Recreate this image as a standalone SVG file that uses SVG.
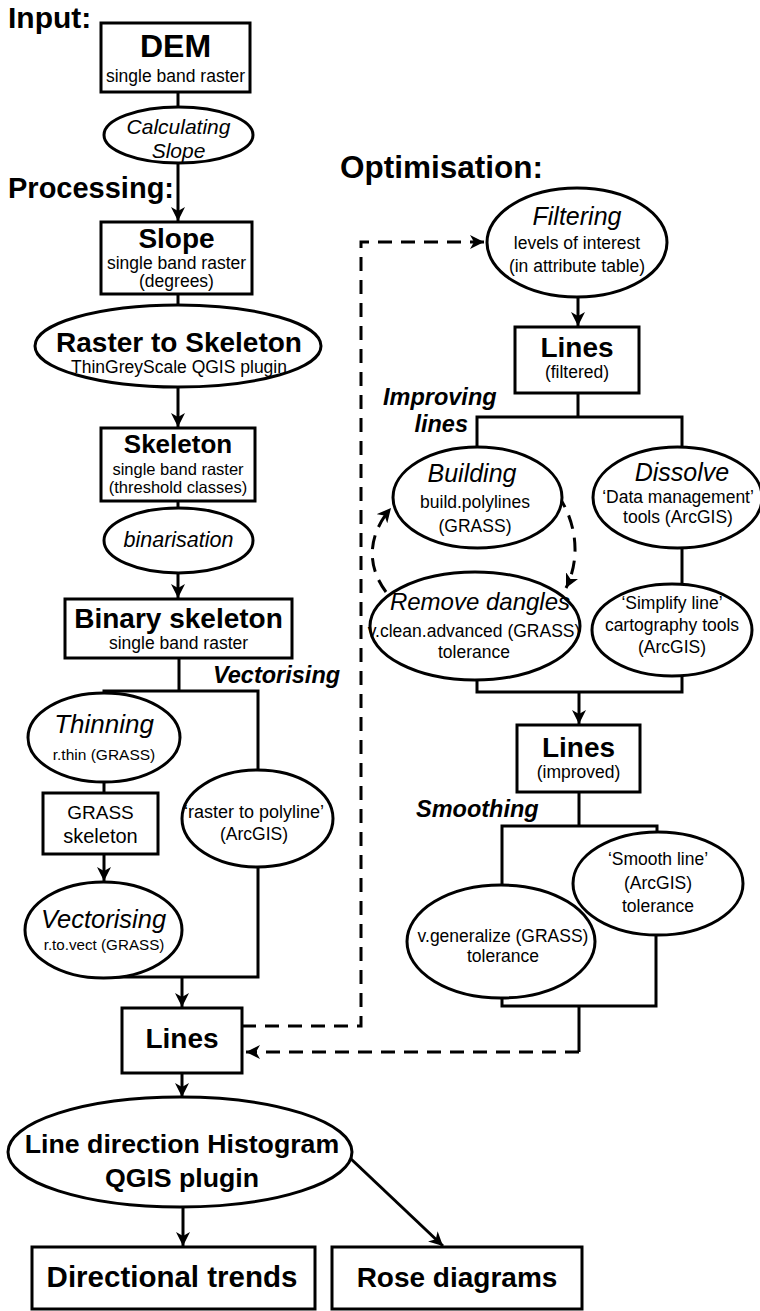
<svg xmlns="http://www.w3.org/2000/svg" width="760" height="1311" viewBox="0 0 760 1311">
<defs>
<marker id="ah" markerUnits="userSpaceOnUse" markerWidth="16" markerHeight="16" refX="14" refY="7" orient="auto">
<path d="M0,0 L14,7 L0,14 L4,7 Z" fill="#000"/>
</marker>
<style>
.n{fill:#fff;stroke:#000;stroke-width:3}
.c{fill:none;stroke:#000;stroke-width:3}
.d{fill:none;stroke:#000;stroke-width:3;stroke-dasharray:14 9}
text{font-family:"Liberation Sans",Arial,sans-serif;fill:#000;text-anchor:middle}
.h{font-size:29px;font-weight:bold;text-anchor:start}
.b{font-size:28px;font-weight:bold}
.s{font-size:17.5px}
.i{font-style:italic;font-size:24px}
.l{font-size:23.5px;font-weight:bold;font-style:italic}
</style>
</defs>
<rect width="760" height="1311" fill="#fff"/>

<g id="connectors">
<line class="c" x1="178" y1="92" x2="178" y2="107"/>
<line class="c" x1="178" y1="163" x2="178" y2="221" marker-end="url(#ah)"/>
<line class="c" x1="178" y1="294" x2="178" y2="305"/>
<line class="c" x1="178" y1="387" x2="178" y2="427" marker-end="url(#ah)"/>
<line class="c" x1="178" y1="501" x2="178" y2="508"/>
<line class="c" x1="178" y1="573" x2="178" y2="598" marker-end="url(#ah)"/>
<path class="c" d="M179,658 V691 M104,693 V691 H258 V770"/>
<line class="c" x1="104" y1="782" x2="104" y2="793"/>
<line class="c" x1="104" y1="854" x2="104" y2="881" marker-end="url(#ah)"/>
<path class="c" d="M104,977 H258 V867"/>
<line class="c" x1="182" y1="977" x2="182" y2="1007" marker-end="url(#ah)"/>
<line class="c" x1="182" y1="1073" x2="182" y2="1097" marker-end="url(#ah)"/>
<line class="c" x1="183" y1="1208" x2="183" y2="1246" marker-end="url(#ah)"/>
<line class="c" x1="350" y1="1158" x2="443" y2="1246" marker-end="url(#ah)"/>
<path class="d" d="M242,1026 H361 V242 H484" marker-end="url(#ah)"/>
<line class="c" x1="578" y1="297" x2="578" y2="326" marker-end="url(#ah)"/>
<path class="c" d="M578,393 V417 M477,447 V417 H682 V447"/>
<line class="c" x1="682" y1="548" x2="682" y2="585"/>
<path class="c" d="M477,680 V692 H682 V675"/>
<line class="c" x1="579" y1="692" x2="579" y2="724" marker-end="url(#ah)"/>
<path class="c" d="M579,792 V826 M502,885 V826 H657 V832"/>
<path class="c" d="M502,998 V1006 H656 V935 M579,1006 V1052"/>
<path class="d" d="M579,1052 H246" marker-end="url(#ah)"/>
<path class="d" d="M558,495 C578,525 580,560 566,588" marker-end="url(#ah)"/>
<path class="d" d="M386,592 C366,565 368,535 391,508" marker-end="url(#ah)"/>
</g>

<text class="h" x="8" y="28" style="font-size:30px">Input:</text>
<text class="h" x="8" y="198">Processing:</text>
<text class="h" x="340" y="178" style="font-size:31.5px">Optimisation:</text>
<text class="l" x="213" y="683" style="text-anchor:start">Vectorising</text>
<text class="l" x="383" y="405" style="text-anchor:start">Improving</text>
<text class="l" x="468" y="432" style="text-anchor:end">lines</text>
<text class="l" x="416" y="817" style="text-anchor:start">Smoothing</text>

<g id="dem">
<rect class="n" x="101" y="23" width="149" height="69"/>
<text class="b" x="175.5" y="57" style="font-size:32px">DEM</text>
<text class="s" x="175.5" y="82">single band raster</text>
</g>
<g id="calc-slope">
<ellipse class="n" cx="178.5" cy="135" rx="74.5" ry="28"/>
<text class="i" x="178.5" y="134" style="font-size:21px">Calculating</text>
<text class="i" x="178.5" y="158" style="font-size:21px">Slope</text>
</g>
<g id="slope">
<rect class="n" x="101" y="222" width="151" height="72"/>
<text class="b" x="176.5" y="248">Slope</text>
<text class="s" x="176.5" y="269">single band raster</text>
<text class="s" x="176.5" y="287">(degrees)</text>
</g>
<g id="raster-to-skeleton">
<ellipse class="n" cx="178" cy="346" rx="143" ry="41"/>
<text class="b" x="179" y="352">Raster to Skeleton</text>
<text class="s" x="179" y="373">ThinGreyScale QGIS plugin</text>
</g>
<g id="skeleton">
<rect class="n" x="101" y="428" width="154" height="73"/>
<text class="b" x="178" y="453" style="font-size:26px">Skeleton</text>
<text class="s" x="178" y="475" style="font-size:16.5px">single band raster</text>
<text class="s" x="178" y="493" style="font-size:16.5px">(threshold classes)</text>
</g>
<g id="binarisation">
<ellipse class="n" cx="178.5" cy="540.5" rx="74.5" ry="32.5"/>
<text class="i" x="178.5" y="547" style="font-size:21.5px">binarisation</text>
</g>
<g id="binary-skeleton">
<rect class="n" x="65" y="599" width="227" height="59"/>
<text class="b" x="178.5" y="628">Binary skeleton</text>
<text class="s" x="178.5" y="649">single band raster</text>
</g>
<g id="thinning">
<ellipse class="n" cx="104" cy="737.5" rx="76" ry="44.5"/>
<text class="i" x="104" y="733" style="font-size:26px">Thinning</text>
<text class="s" x="104" y="760" style="font-size:15.5px">r.thin (GRASS)</text>
</g>
<g id="grass-skeleton">
<rect class="n" x="43" y="793" width="115" height="61"/>
<text x="100.5" y="819" style="font-size:19px">GRASS</text>
<text x="100.5" y="843" style="font-size:20px">skeleton</text>
</g>
<g id="raster-to-polyline">
<ellipse class="n" cx="257.5" cy="818.5" rx="75.5" ry="48.5"/>
<text class="s" x="254" y="818" style="font-size:18px">‘raster to polyline’</text>
<text class="s" x="254" y="840">(ArcGIS)</text>
</g>
<g id="vectorising">
<ellipse class="n" cx="103.5" cy="930" rx="78.5" ry="48"/>
<text class="i" x="103.5" y="928" style="font-size:25.5px">Vectorising</text>
<text class="s" x="104" y="950" style="font-size:15.2px">r.to.vect (GRASS)</text>
</g>
<g id="lines">
<rect class="n" x="122" y="1008" width="120" height="65"/>
<text class="b" x="182" y="1048">Lines</text>
</g>
<g id="line-direction">
<ellipse class="n" cx="180" cy="1152" rx="172" ry="55"/>
<text class="b" x="182" y="1153" style="font-size:26.7px">Line direction Histogram</text>
<text class="b" x="182" y="1187" style="font-size:26.7px">QGIS plugin</text>
</g>
<g id="directional-trends">
<rect class="n" x="32" y="1247" width="283" height="62"/>
<text class="b" x="172" y="1287" style="font-size:29.5px">Directional trends</text>
</g>
<g id="rose-diagrams">
<rect class="n" x="332" y="1247" width="250" height="62"/>
<text class="b" x="457" y="1287">Rose diagrams</text>
</g>
<g id="filtering">
<ellipse class="n" cx="577" cy="242.5" rx="90" ry="54.5"/>
<text class="i" x="577" y="225" style="font-size:25px">Filtering</text>
<text class="s" x="577" y="249">levels of interest</text>
<text class="s" x="577" y="272">(in attribute table)</text>
</g>
<g id="lines-filtered">
<rect class="n" x="515" y="327" width="124" height="66"/>
<text class="b" x="577" y="357">Lines</text>
<text class="s" x="577" y="378">(filtered)</text>
</g>
<g id="building">
<ellipse class="n" cx="477.5" cy="497.5" rx="84.5" ry="50.5"/>
<text class="i" x="472" y="482" style="font-size:25px">Building</text>
<text class="s" x="475" y="508">build.polylines</text>
<text class="s" x="475" y="532">(GRASS)</text>
</g>
<g id="dissolve">
<ellipse class="n" cx="677.5" cy="497.5" rx="84.5" ry="50.5"/>
<text class="i" x="682" y="481" style="font-size:25px">Dissolve</text>
<text class="s" x="678" y="503">‘Data management’</text>
<text class="s" x="678" y="523">tools (ArcGIS)</text>
</g>
<g id="remove-dangles">
<ellipse class="n" cx="475" cy="626" rx="105" ry="54"/>
<text class="i" x="480" y="610" style="font-size:24px">Remove dangles</text>
<text class="s" x="474" y="637">v.clean.advanced (GRASS)</text>
<text class="s" x="474" y="658">tolerance</text>
</g>
<g id="simplify">
<ellipse class="n" cx="672" cy="630" rx="80" ry="46"/>
<text class="s" x="672" y="609">‘Simplify line’</text>
<text class="s" x="672" y="631">cartography tools</text>
<text class="s" x="672" y="653">(ArcGIS)</text>
</g>
<g id="lines-improved">
<rect class="n" x="517" y="725" width="123" height="67"/>
<text class="b" x="578.5" y="757">Lines</text>
<text class="s" x="578.5" y="778">(improved)</text>
</g>
<g id="smooth-line">
<ellipse class="n" cx="658" cy="883.5" rx="85" ry="51.5"/>
<text class="s" x="658" y="865">‘Smooth line’</text>
<text class="s" x="658" y="889">(ArcGIS)</text>
<text class="s" x="658" y="912">tolerance</text>
</g>
<g id="v-generalize">
<ellipse class="n" cx="501" cy="941.5" rx="94" ry="56.5"/>
<text class="s" x="503" y="942">v.generalize (GRASS)</text>
<text class="s" x="503" y="962">tolerance</text>
</g>
</svg>
